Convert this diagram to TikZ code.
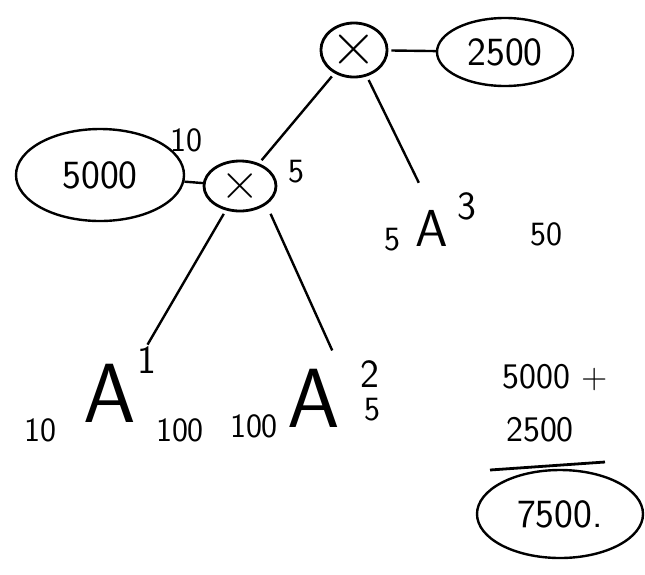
\documentclass[tikz,border=0pt]{standalone}
\usetikzlibrary{positioning,shapes.geometric}
\tikzset{
  opnode/.style={draw, line width=2.8pt, ellipse, inner sep=0pt},
  costnode/.style={draw, line width=2.4pt, ellipse, inner sep=0pt,
    font=\sffamily\fontsize{40}{44}\selectfont},
  sumtext/.style={inner sep=0pt, font=\sffamily\fontsize{36}{40}\selectfont},
  matnode/.style={inner sep=0pt, font=\sffamily\fontsize{84}{88}\selectfont},
  supnode/.style={inner sep=0pt, font=\sffamily\fontsize{40}{42}\selectfont},
  dimlabel/.style={inner sep=1pt, font=\sffamily\fontsize{34}{36}\selectfont},
  edge/.style={line width=2.4pt, shorten >=4pt, shorten <=4pt},
}
\begin{document}
\begin{tikzpicture}[x=1pt, y=-1pt]
  \useasboundingbox (0,0) rectangle (645,574);

  % Multiplication nodes
  \node[opnode, minimum width=56, minimum height=54,
        font=\sffamily\fontsize{64}{64}\selectfont] (root) at (354,50) {×};
  \node[opnode, minimum width=72, minimum height=50,
        font=\sffamily\fontsize{54}{54}\selectfont] (mid) at (240,186) {×};

  % Costs
  \node[costnode, minimum width=136, minimum height=68] (c2500) at (505,52) {2500};
  \node[costnode, minimum width=168, minimum height=92] (c5000) at (100,175) {5000};

  % Matrices
  \node[matnode] (a1) at (110,393) {A};
  \node[supnode] (s1) at (147,360) {1};
  \node[matnode] (a2) at (314,398) {A};
  \node[supnode] (s2) at (370,374) {2};
  \node[matnode, font=\sffamily\fontsize{52}{56}\selectfont] (a3) at (432,228) {A};
  \node[supnode] (s3) at (467,206) {3};

  % Dimensions
  \node[dimlabel] (d10) at (186,140) {10};
  \node[dimlabel] (d5) at (296,172) {5};
  \node[dimlabel] (d3l) at (392,240) {5};
  \node[dimlabel] (d3r) at (546,234) {50};
  \node[dimlabel] (d1l) at (40,430) {10};
  \node[dimlabel] (d1r) at (180,430) {100};
  \node[dimlabel] (d2l) at (254,426) {100};
  \node[dimlabel] (d2r) at (372,410) {5};

  % Tree
  \draw[edge] (root) -- (mid);
  \draw[edge, shorten >=30pt] (root) -- (a3.north);
  \draw[edge, shorten >=22pt] (mid) -- (a1.north east);
  \draw[edge, shorten <=10pt, shorten >=20pt] (mid.south east) -- (a2.north east);
  \draw[edge, shorten >=0pt, shorten <=3pt] (root) -- (c2500);
  \draw[edge, shorten >=0pt, shorten <=0pt] (mid) -- (c5000);

  % Sum
  \node[sumtext] (t1) at (555,378) {5000 +};
  \node[sumtext] (t2) at (540,430) {2500};
  \coordinate (barl) at (490,470);
  \coordinate (barr) at (605,462);
  \draw[line width=2.8pt] (barl) -- (barr);
  \node[costnode, minimum width=166, minimum height=88] (total) at (560,514) {7500.};
\end{tikzpicture}
\end{document}
